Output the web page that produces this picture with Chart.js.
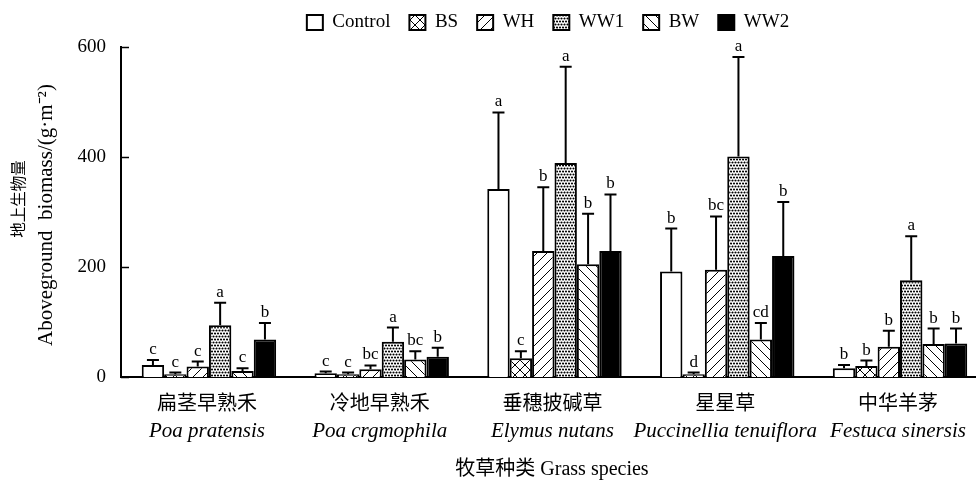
<!DOCTYPE html>
<html>
<head>
<meta charset="utf-8">
<script src="https://cdn.jsdelivr.net/npm/chart.js@4.4.1/dist/chart.umd.min.js"></script>
<style>
  html, body { margin: 0; padding: 0; background: #fff; }
  #wrap { width: 979px; height: 486px; position: relative; }
</style>
</head>
<body>
<div id="wrap"><canvas id="chart"></canvas></div>
<script>
// Grass species (x categories)
const speciesZh = ['扁茎早熟禾', '冷地早熟禾', '垂穗披碱草', '星星草', '中华羊茅'];
const speciesLatin = ['Poa pratensis', 'Poa crgmophila', 'Elymus nutans', 'Puccinellia tenuiflora', 'Festuca sinersis'];

// Treatments (series)
const treatments = ['Control', 'BS', 'WH', 'WW1', 'BW', 'WW2'];

// Mean aboveground biomass, g·m⁻²
const controlMean = [22, 7, 342, 192, 16];
const bsMean      = [5, 5, 34, 5, 20];
const whMean      = [19, 14, 229, 195, 55];
const ww1Mean     = [94, 64, 389, 401, 176];
const bwMean      = [11, 32, 205, 68, 60];
const ww2Mean     = [68, 37, 229, 220, 61];

// Standard deviations (upper error bars)
const controlSd = [9, 3, 139, 78, 6];
const bsSd      = [3, 3, 13, 3, 10];
const whSd      = [9, 7, 116, 97, 29];
const ww1Sd     = [41, 26, 175, 181, 80];
const bwSd      = [5, 15, 92, 30, 28];
const ww2Sd     = [30, 16, 103, 98, 27];

// Significance letters
const controlSig = ['c', 'c', 'a', 'b', 'b'];
const bsSig      = ['c', 'c', 'c', 'd', 'b'];
const whSig      = ['c', 'bc', 'b', 'bc', 'b'];
const ww1Sig     = ['a', 'a', 'a', 'a', 'a'];
const bwSig      = ['c', 'bc', 'b', 'cd', 'b'];
const ww2Sig     = ['b', 'b', 'b', 'b', 'b'];

// Y axis ticks
const yTicks = [0, 200, 400, 600];

const FONT = "'Liberation Serif', 'Noto Sans CJK SC', serif";

// Monochrome fill patterns
function makePattern(kind) {
  const s = kind === 'dots' ? 6 : 10;
  const cv = document.createElement('canvas');
  cv.width = s; cv.height = s;
  const g = cv.getContext('2d');
  g.fillStyle = '#fff';
  g.fillRect(0, 0, s, s);
  g.strokeStyle = '#000';
  g.fillStyle = '#000';
  g.lineWidth = 1;
  if (kind === 'fwd' || kind === 'cross') {
    g.beginPath();
    g.moveTo(0, s); g.lineTo(s, 0);
    g.moveTo(-2, 2); g.lineTo(2, -2);
    g.moveTo(s - 2, s + 2); g.lineTo(s + 2, s - 2);
    g.stroke();
  }
  if (kind === 'back' || kind === 'cross') {
    g.beginPath();
    g.moveTo(0, 0); g.lineTo(s, s);
    g.moveTo(s - 2, -2); g.lineTo(s + 2, 2);
    g.moveTo(-2, s - 2); g.lineTo(2, s + 2);
    g.stroke();
  }
  if (kind === 'dots') {
    const pts = [[0.5, 0.5], [3.5, 0.5], [6.5, 0.5], [2, 3.5], [5, 3.5], [-1, 3.5], [0.5, 6.5], [3.5, 6.5]];
    pts.forEach(([x, y]) => { g.beginPath(); g.arc(x, y, 1.05, 0, Math.PI * 2); g.fill(); });
  }
  return g.createPattern(cv, 'repeat');
}

const fills = ['#ffffff', makePattern('cross'), makePattern('fwd'), makePattern('dots'), makePattern('back'), '#000000'];
const means = [controlMean, bsMean, whMean, ww1Mean, bwMean, ww2Mean];
const sds = [controlSd, bsSd, whSd, ww1Sd, bwSd, ww2Sd];
const sigs = [controlSig, bsSig, whSig, ww1Sig, bwSig, ww2Sig];

const datasets = treatments.map((name, k) => ({
  label: name,
  data: means[k].map((v, i) => ({ x: i, y: v })),
  errors: sds[k],
  letters: sigs[k],
  backgroundColor: fills[k],
  borderColor: '#000',
  borderWidth: 2,
  categoryPercentage: 0.778,
  barPercentage: 1.0
}));

// Error bars with significance letters
const errorBars = {
  id: 'errorBars',
  afterDatasetsDraw(chart) {
    const { ctx, scales: { y } } = chart;
    ctx.save();
    ctx.strokeStyle = '#000';
    ctx.fillStyle = '#000';
    ctx.lineWidth = 2;
    ctx.font = "17px " + FONT;
    ctx.textAlign = 'center';
    ctx.textBaseline = 'alphabetic';
    chart.data.datasets.forEach((ds, di) => {
      const meta = chart.getDatasetMeta(di);
      meta.data.forEach((bar, i) => {
        const top = y.getPixelForValue(ds.data[i].y + ds.errors[i]);
        ctx.beginPath();
        ctx.moveTo(bar.x, bar.y);
        ctx.lineTo(bar.x, top);
        ctx.moveTo(bar.x - 6, top);
        ctx.lineTo(bar.x + 6, top);
        ctx.stroke();
        ctx.fillText(ds.letters[i], bar.x, top - 6);
      });
    });
    ctx.restore();
  }
};

// Inward tick marks, category labels and axis titles
const axisDecor = {
  id: 'axisDecor',
  afterDraw(chart) {
    const { ctx, chartArea, scales: { x, y } } = chart;
    ctx.save();
    ctx.strokeStyle = '#000';
    ctx.lineWidth = 1.5;
    yTicks.forEach(v => {
      const py = Math.round(y.getPixelForValue(v)) + 0.5;
      ctx.beginPath();
      ctx.moveTo(chartArea.left, py);
      ctx.lineTo(chartArea.left + 8, py);
      ctx.stroke();
    });

    ctx.fillStyle = '#000';
    ctx.textAlign = 'center';
    ctx.textBaseline = 'middle';
    speciesZh.forEach((name, i) => {
      const px = x.getPixelForValue(i);
      ctx.font = "20px " + FONT;
      ctx.fillText(name, px - 2, 405);
      ctx.font = "italic 21px " + FONT;
      ctx.fillText(speciesLatin[i], px - 2, 431);
    });

    ctx.font = "20px " + FONT;
    ctx.fillText('牧草种类 Grass species', (chartArea.left + chartArea.right) / 2 + 4, 470);

    ctx.save();
    ctx.translate(20, 199);
    ctx.rotate(-Math.PI / 2);
    ctx.font = "15.5px " + FONT;
    ctx.fillText('地上生物量', 0, 0);
    ctx.restore();

    ctx.save();
    ctx.translate(46, 215);
    ctx.rotate(-Math.PI / 2);
    ctx.font = "21px " + FONT;
    ctx.fillText('Aboveground  biomass/(g·m⁻²)', 0, 0);
    ctx.restore();

    ctx.restore();
  }
};

new Chart(document.getElementById('chart'), {
  type: 'bar',
  data: { datasets },
  options: {
    responsive: true,
    maintainAspectRatio: false,
    animation: false,
    devicePixelRatio: 1,
    layout: { padding: { top: -6, right: 4, left: 0, bottom: 0 } },
    plugins: {
      legend: {
        display: true,
        position: 'top',
        fullSize: false,
        labels: {
          boxWidth: 16,
          boxHeight: 15,
          padding: 19,
          color: '#000',
          font: { family: FONT, size: 19 }
        }
      },
      // empty spacer between legend and plot
      subtitle: {
        display: true,
        text: '',
        weight: 100,
        font: { size: 1, lineHeight: 1 },
        padding: { top: 4, bottom: 0 }
      },
      tooltip: { enabled: false }
    },
    scales: {
      x: {
        type: 'linear',
        offset: false,
        min: -0.509,
        max: 4.434,
        afterBuildTicks(scale) { scale.ticks = speciesZh.map((_, i) => ({ value: i })); },
        afterFit(scale) { scale.height = 109; },
        ticks: { display: false },
        grid: { display: false, drawTicks: false },
        border: { display: true, color: '#000', width: 2 }
      },
      y: {
        min: 0,
        max: 600,
        afterBuildTicks(scale) { scale.ticks = yTicks.map(v => ({ value: v })); },
        afterFit(scale) { scale.width = 121; },
        ticks: { color: '#000', padding: 15, font: { family: FONT, size: 19 } },
        grid: { display: false, drawTicks: false },
        border: { display: true, color: '#000', width: 2 }
      }
    }
  },
  plugins: [errorBars, axisDecor]
});
</script>
</body>
</html>
